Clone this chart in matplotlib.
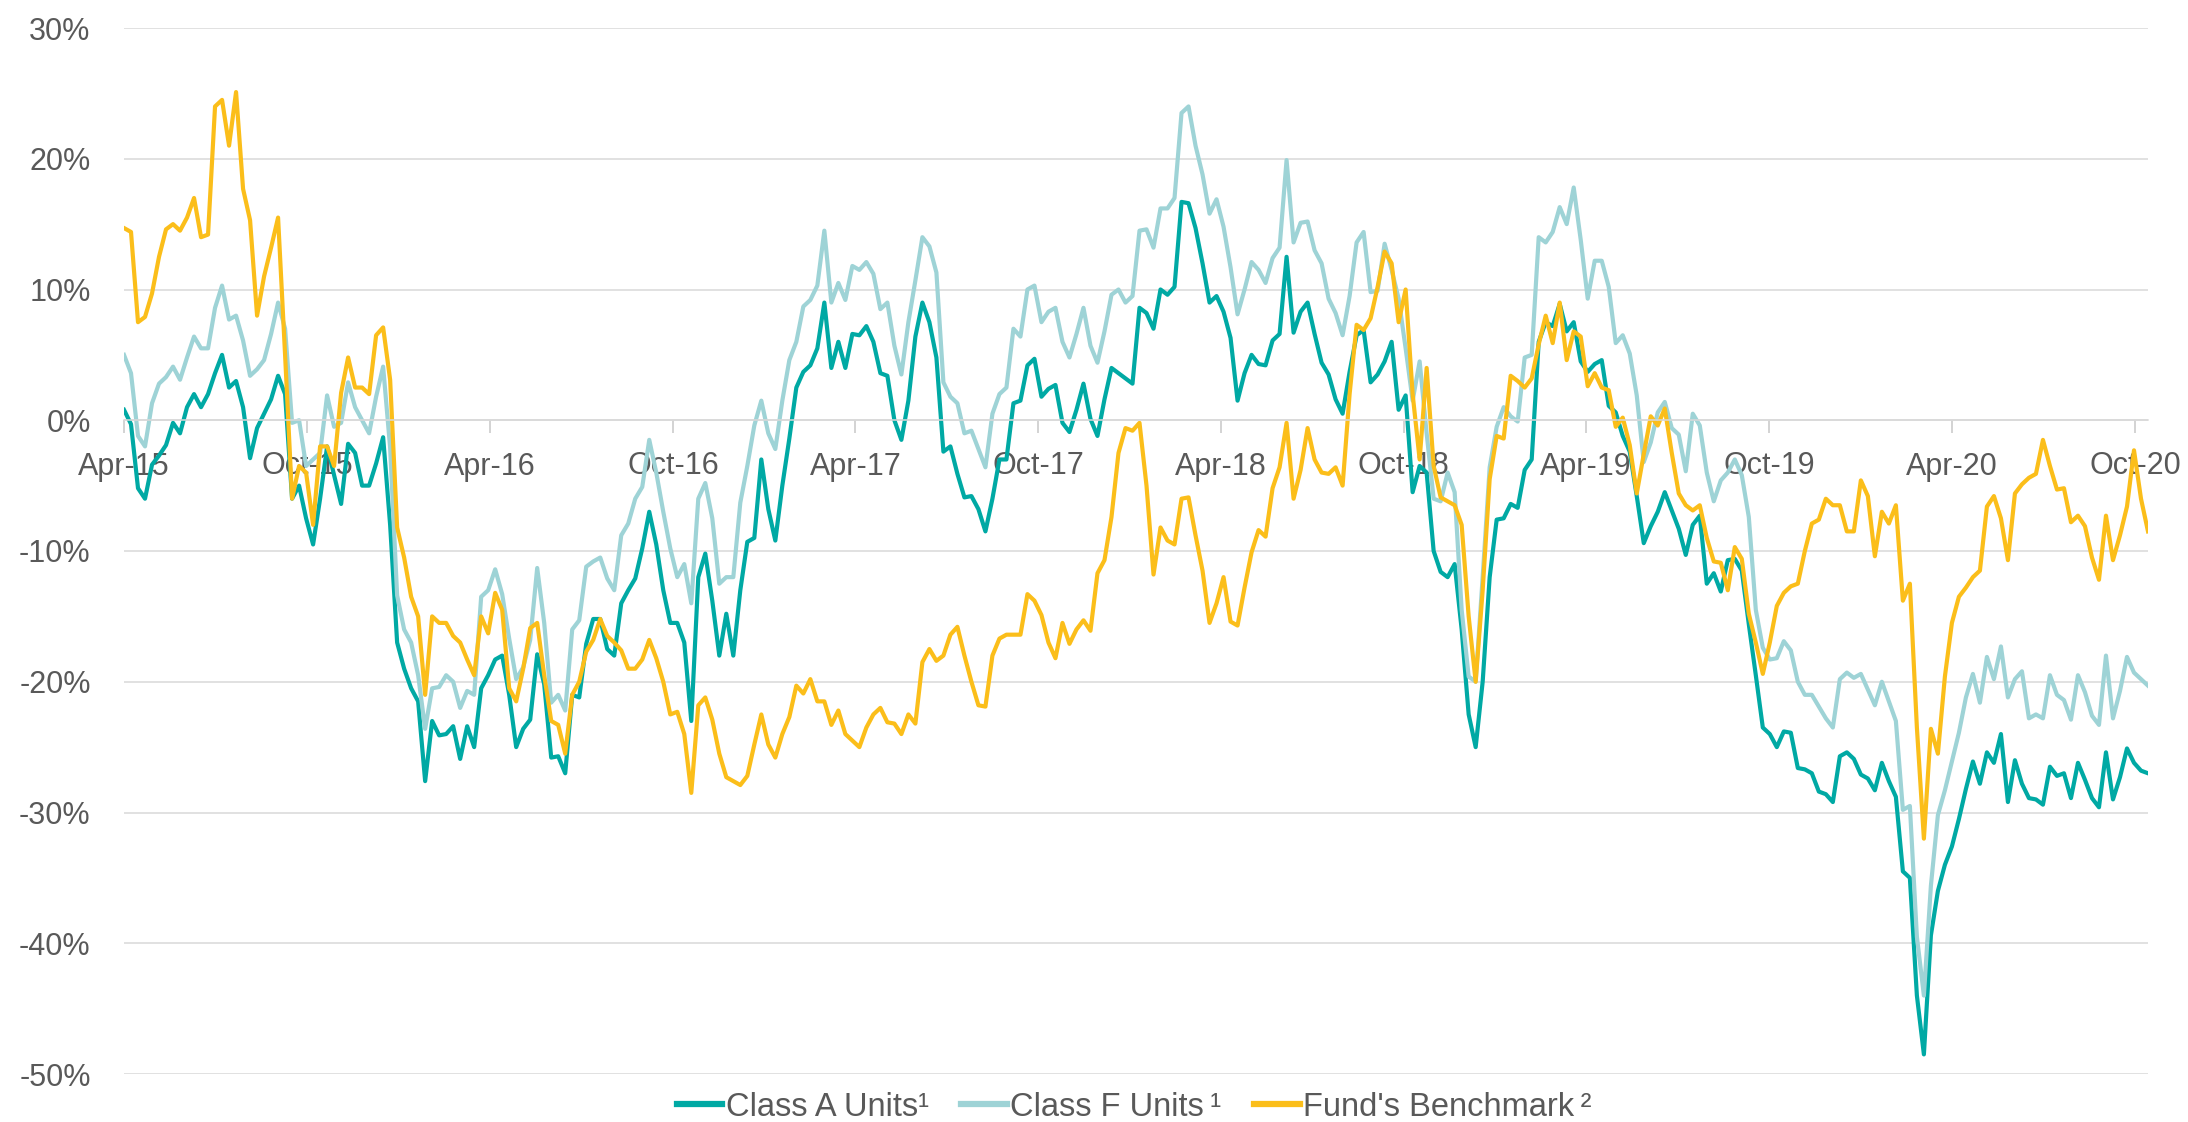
import matplotlib
matplotlib.use("Agg")
import matplotlib.pyplot as plt
import matplotlib.dates as mdates
from matplotlib.ticker import FuncFormatter
import pandas as pd

# ---------------- data (weekly readings, % cumulative return) ----------------
start_date = "2015-04-01"

class_a = [
    0.8, -0.3, -5.2, -6.0, -3.4, -2.7, -1.9, -0.2, -1.0, 1.0,
    2.0, 1.0, 2.0, 3.6, 5.0, 2.5, 3.0, 1.0, -2.9, -0.6,
    0.5, 1.6, 3.4, 2.0, -6.0, -5.0, -7.5, -9.5, -6.0, -2.0,
    -4.2, -6.4, -1.8, -2.5, -5.0, -5.0, -3.3, -1.3, -8.0, -17.0,
    -19.0, -20.5, -21.5, -27.6, -23.0, -24.1, -24.0, -23.4, -25.9, -23.4,
    -25.0, -20.5, -19.5, -18.3, -18.0, -21.0, -25.0, -23.6, -22.9, -17.9,
    -20.2, -25.8, -25.7, -27.0, -21.0, -21.2, -17.1, -15.2, -15.2, -17.5,
    -18.0, -14.0, -13.0, -12.1, -9.8, -7.0, -9.5, -13.0, -15.5, -15.5,
    -17.0, -23.0, -12.0, -10.2, -13.8, -18.0, -14.8, -18.0, -13.0, -9.3,
    -9.0, -3.0, -6.8, -9.2, -5.0, -1.4, 2.5, 3.7, 4.2, 5.5,
    9.0, 4.0, 6.0, 4.0, 6.6, 6.5, 7.2, 6.0, 3.6, 3.4,
    0.0, -1.5, 1.5, 6.4, 9.0, 7.5, 4.8, -2.4, -2.0, -4.1,
    -5.9, -5.8, -6.8, -8.5, -6.0, -3.0, -3.0, 1.3, 1.5, 4.2,
    4.7, 1.8, 2.4, 2.7, -0.2, -0.9, 0.8, 2.8, 0.1, -1.2,
    1.6, 4.0, 3.6, 3.2, 2.8, 8.6, 8.2, 7.0, 10.0, 9.6,
    10.2, 16.7, 16.6, 14.7, 12.0, 9.0, 9.5, 8.3, 6.3, 1.5,
    3.6, 5.0, 4.3, 4.2, 6.1, 6.6, 12.5, 6.7, 8.3, 9.0,
    6.6, 4.4, 3.5, 1.6, 0.5, 3.7, 6.5, 6.9, 2.9, 3.5,
    4.5, 6.0, 0.8, 1.9, -5.5, -3.5, -4.0, -10.0, -11.6, -12.0,
    -11.0, -16.0, -22.5, -25.0, -20.0, -12.0, -7.6, -7.5, -6.4, -6.7,
    -3.8, -3.0, 6.0, 7.5, 7.2, 8.9, 6.8, 7.5, 4.5, 3.7,
    4.3, 4.6, 1.1, 0.6, -1.2, -2.4, -5.8, -9.4, -8.1, -7.0,
    -5.5, -6.9, -8.3, -10.3, -8.0, -7.3, -12.5, -11.7, -13.1, -10.7,
    -10.6, -11.5, -15.6, -19.5, -23.5, -24.0, -25.0, -23.8, -23.9, -26.6,
    -26.7, -27.0, -28.4, -28.6, -29.2, -25.7, -25.4, -25.9, -27.1, -27.4,
    -28.3, -26.2, -27.6, -28.8, -34.5, -35.0, -44.0, -48.5, -39.4, -36.0,
    -34.0, -32.6, -30.5, -28.2, -26.1, -27.8, -25.4, -26.2, -24.0, -29.2,
    -26.0, -27.8, -28.9, -29.0, -29.4, -26.5, -27.2, -27.0, -28.9, -26.2,
    -27.5, -28.9, -29.6, -25.4, -29.0, -27.3, -25.1, -26.2, -26.8, -27.0,
]

class_f = [
    5.0, 3.6, -1.2, -2.0, 1.3, 2.8, 3.3, 4.1, 3.1, 4.8,
    6.4, 5.5, 5.5, 8.6, 10.3, 7.7, 8.0, 6.1, 3.4, 3.9,
    4.6, 6.6, 9.0, 7.0, -0.2, 0.0, -3.5, -3.0, -2.5, 1.9,
    -0.5, -0.2, 2.9, 1.0, 0.0, -1.0, 1.8, 4.1, -2.1, -13.4,
    -16.0, -17.0, -19.5, -23.6, -20.5, -20.4, -19.5, -20.0, -22.0, -20.7,
    -21.0, -13.5, -13.0, -11.4, -13.3, -16.7, -19.8, -18.9, -16.8, -11.3,
    -15.5, -21.6, -21.0, -22.2, -16.0, -15.3, -11.2, -10.8, -10.5, -12.1,
    -13.0, -8.8, -7.9, -6.0, -5.1, -1.5, -4.0, -7.0, -9.8, -12.0,
    -11.0, -14.0, -6.0, -4.8, -7.5, -12.5, -12.0, -12.0, -6.3, -3.5,
    -0.4, 1.5, -1.0, -2.2, 1.5, 4.6, 6.0, 8.7, 9.2, 10.3,
    14.5, 9.0, 10.5, 9.2, 11.8, 11.5, 12.1, 11.2, 8.5, 9.0,
    5.7, 3.5, 7.5, 10.7, 14.0, 13.3, 11.3, 2.9, 1.8, 1.3,
    -1.0, -0.8, -2.2, -3.6, 0.5, 2.0, 2.5, 7.0, 6.4, 10.0,
    10.3, 7.5, 8.3, 8.6, 6.0, 4.8, 6.6, 8.6, 5.7, 4.4,
    6.8, 9.6, 10.0, 9.0, 9.5, 14.5, 14.6, 13.2, 16.2, 16.2,
    17.0, 23.5, 24.0, 21.0, 18.8, 15.8, 16.9, 14.8, 11.7, 8.1,
    10.0, 12.1, 11.5, 10.5, 12.4, 13.2, 19.9, 13.6, 15.1, 15.2,
    13.0, 12.0, 9.3, 8.2, 6.5, 9.5, 13.6, 14.4, 9.8, 9.9,
    13.5, 11.5, 9.3, 5.5, 1.5, 4.5, -1.0, -6.0, -6.2, -4.0,
    -5.5, -14.5, -19.6, -20.0, -12.0, -3.6, -0.5, 1.0, 0.3, -0.1,
    4.8, 5.0, 14.0, 13.6, 14.4, 16.3, 15.0, 17.8, 13.8, 9.3,
    12.2, 12.2, 10.2, 5.9, 6.5, 5.1, 1.9, -3.2, -1.7, 0.6,
    1.4, -0.6, -1.1, -3.9, 0.5, -0.4, -4.0, -6.2, -4.6, -4.0,
    -3.0, -4.2, -7.4, -14.5, -17.4, -18.3, -18.2, -16.9, -17.6, -20.0,
    -21.0, -21.0, -21.9, -22.8, -23.5, -19.8, -19.3, -19.7, -19.4, -20.6,
    -21.8, -20.0, -21.5, -23.0, -29.8, -29.5, -39.5, -44.0, -35.6, -30.2,
    -28.3, -26.1, -23.9, -21.2, -19.4, -21.6, -18.1, -19.8, -17.3, -21.2,
    -19.8, -19.2, -22.8, -22.5, -22.8, -19.5, -21.0, -21.4, -22.9, -19.5,
    -20.8, -22.6, -23.3, -18.0, -22.8, -20.7, -18.1, -19.3, -19.8, -20.3,
]

benchmark = [
    14.7, 14.4, 7.5, 7.9, 9.7, 12.5, 14.6, 15.0, 14.5, 15.5,
    17.0, 14.0, 14.2, 24.0, 24.5, 21.0, 25.1, 17.7, 15.3, 8.0,
    11.0, 13.2, 15.5, 5.0, -6.0, -3.5, -4.0, -8.0, -2.0, -2.0,
    -3.5, 2.1, 4.8, 2.5, 2.5, 2.0, 6.5, 7.1, 3.1, -8.2,
    -10.5, -13.5, -15.0, -21.0, -15.0, -15.5, -15.5, -16.5, -17.0, -18.3,
    -19.5, -15.0, -16.3, -13.2, -14.5, -20.5, -21.5, -19.0, -15.9, -15.5,
    -19.5, -23.0, -23.3, -25.5, -21.0, -20.0, -17.7, -16.8, -15.2, -16.5,
    -17.0, -17.6, -19.0, -19.0, -18.3, -16.8, -18.2, -20.0, -22.5, -22.3,
    -24.0, -28.5, -21.8, -21.2, -22.9, -25.5, -27.3, -27.6, -27.9, -27.2,
    -24.8, -22.5, -24.8, -25.8, -24.0, -22.7, -20.3, -20.9, -19.8, -21.5,
    -21.5, -23.3, -22.2, -24.0, -24.5, -25.0, -23.5, -22.5, -22.0, -23.1,
    -23.2, -24.0, -22.5, -23.2, -18.5, -17.5, -18.4, -18.0, -16.4, -15.8,
    -18.0, -20.0, -21.8, -21.9, -18.0, -16.7, -16.4, -16.4, -16.4, -13.3,
    -13.8, -14.9, -17.0, -18.2, -15.5, -17.1, -16.0, -15.3, -16.1, -11.7,
    -10.7, -7.4, -2.5, -0.6, -0.8, -0.2, -5.0, -11.8, -8.2, -9.2,
    -9.5, -6.0, -5.9, -8.8, -11.5, -15.5, -14.0, -12.0, -15.4, -15.7,
    -12.8, -10.1, -8.4, -8.9, -5.2, -3.6, -0.2, -6.0, -3.8, -0.6,
    -3.0, -4.0, -4.1, -3.6, -5.0, 2.0, 7.3, 6.9, 7.8, 10.2,
    12.9, 12.0, 7.5, 10.0, 2.0, -3.0, 4.0, -3.5, -5.9, -6.2,
    -6.5, -8.0, -15.0, -20.0, -13.0, -4.5, -1.2, -1.4, 3.4, 3.0,
    2.5, 3.2, 5.8, 8.0, 5.9, 9.0, 4.6, 6.8, 6.4, 2.6,
    3.6, 2.5, 2.3, -0.5, 0.2, -1.9, -5.6, -2.6, 0.3, -0.4,
    0.9, -2.5, -5.6, -6.5, -6.9, -6.5, -9.0, -10.8, -10.9, -13.0,
    -9.7, -10.6, -14.8, -17.0, -19.4, -17.0, -14.2, -13.2, -12.7, -12.5,
    -10.0, -7.9, -7.6, -6.0, -6.5, -6.5, -8.5, -8.5, -4.6, -5.8,
    -10.4, -7.0, -7.9, -6.5, -13.8, -12.5, -23.5, -32.0, -23.6, -25.5,
    -19.6, -15.5, -13.5, -12.8, -12.0, -11.5, -6.6, -5.8, -7.5, -10.7,
    -5.6, -4.9, -4.4, -4.1, -1.5, -3.5, -5.3, -5.2, -7.8, -7.3,
    -8.1, -10.5, -12.2, -7.3, -10.7, -8.8, -6.6, -2.3, -6.0, -8.5,
]

series_names = ["Class A Units\u00b9", "Class F Units\u2009\u00b9", "Fund's Benchmark\u2009\u00b2"]
series_colors = ["#00A9A4", "#9ED3D6", "#FBBE1A"]
y_ticks = [-50, -40, -30, -20, -10, 0, 10, 20, 30]

dates = pd.date_range(start_date, periods=len(class_a), freq="7D")

# ---------------- figure ----------------
plt.rcParams["font.family"] = ["Liberation Sans", "DejaVu Sans"]

W, H = 2188, 1122
fig = plt.figure(figsize=(W / 100, H / 100), dpi=100)
ax = fig.add_axes([124 / W, 1 - 1074 / H, (2148 - 124) / W, (1074 - 28) / H])

grid_color = "#D9D9D9"
text_color = "#595959"

for vals, name, col in zip([class_a, class_f, benchmark], series_names, series_colors):
    ax.plot(dates, vals, color=col, lw=3.0, label=name, solid_joinstyle="round")

ax.set_ylim(-50, 30)
ax.set_xlim(dates[0], dates[-1])
ax.set_yticks(y_ticks)
ax.yaxis.set_major_formatter(FuncFormatter(lambda v, p: f"{v:.0f}%"))
ax.grid(axis="y", color=grid_color, lw=1.1)
ax.set_axisbelow(True)

for s in ["top", "right", "left"]:
    ax.spines[s].set_visible(False)
ax.spines["bottom"].set_position(("data", 0))
ax.spines["bottom"].set_color(grid_color)
ax.spines["bottom"].set_linewidth(1.1)

ax.xaxis.set_major_locator(mdates.MonthLocator(bymonth=[4, 10], bymonthday=1))
ax.xaxis.set_major_formatter(mdates.DateFormatter("%b-%y"))

ax.tick_params(axis="y", length=0, pad=24, labelsize=22, labelcolor=text_color)
ax.tick_params(axis="x", length=9.5, width=1.1, color="#C8C8C8", direction="out",
               pad=13, labelsize=22, labelcolor=text_color)

leg = fig.legend(loc="center", bbox_to_anchor=(1134 / W, 1 - 1107 / H), ncol=3,
                 frameon=False, handlelength=1.4, handletextpad=0.1,
                 columnspacing=1.0, borderpad=0, labelcolor=text_color,
                 prop={"family": ["Liberation Sans", "DejaVu Sans"], "size": 23.5})
for line in leg.get_lines():
    line.set_linewidth(4.5)

fig.savefig("out.png", dpi=100)
